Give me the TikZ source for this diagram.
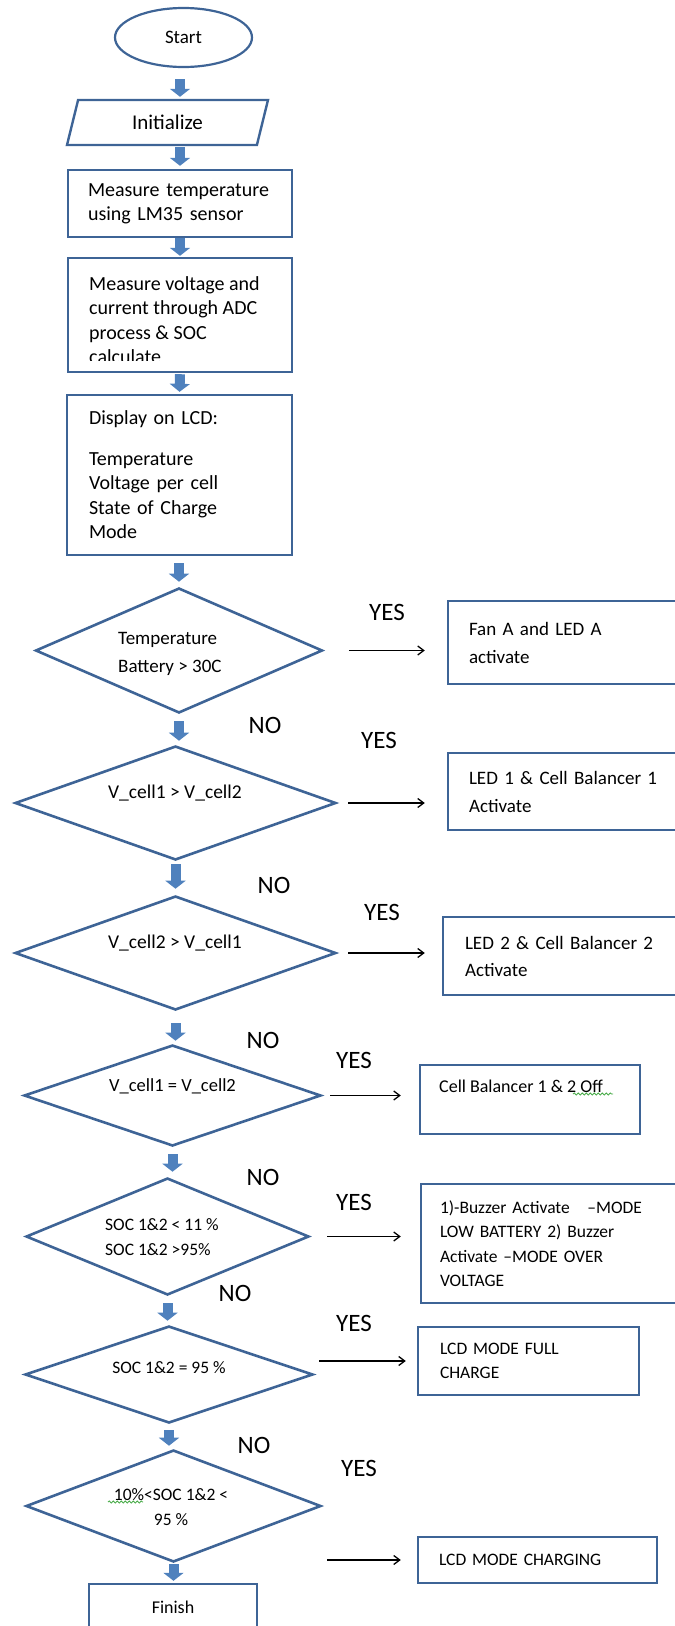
\documentclass[tikz,border=0pt]{standalone}
\usepackage{fontspec}
\setmainfont{Carlito}
\usetikzlibrary{shapes.geometric,arrows.meta,calc,decorations.pathmorphing}
\definecolor{bord}{RGB}{62,100,150}
\definecolor{blkc}{RGB}{79,129,189}
\definecolor{squig}{RGB}{70,170,70}
\newcommand{\myfs}[2]{\fontsize{#1}{#2}\selectfont}
\begin{document}
\begin{tikzpicture}[x=1pt,y=-1pt,
  term/.style={ellipse, draw=bord, line width=2.2pt, inner sep=0pt},
  io/.style={trapezium, trapezium left angle=53, trapezium right angle=127,
    trapezium stretches body, draw=bord, line width=2.4pt, inner sep=0pt},
  proc/.style={rectangle, draw=bord, line width=2.4pt, inner ysep=0pt, align=left},
  dia/.style={diamond, draw=bord, line width=2.6pt, inner sep=0pt},
  dtext/.style={inner sep=0pt},
  blk/.style={draw=blkc, line width=10pt, -{Triangle[width=20pt,length=8pt]}},
  ya/.style={draw=black, line width=1.3pt, -{Straight Barb[length=6pt,width=9pt]}},
  lab/.style={inner sep=0pt, font=\myfs{25}{28}},
  sq/.style={draw=squig, line width=0.8pt, decorate,
    decoration={snake, amplitude=1.1pt, segment length=4pt}}
]
\useasboundingbox (0,0) rectangle (675,1626);
\clip (0,0) rectangle (675,1626);

% main column
\node[term, minimum width=137pt, minimum height=59pt, font=\myfs{19}{23}] (start) at (183.5,37.5) {Start};
\node[io, minimum width=201pt, minimum height=45pt, font=\myfs{21}{24}] (init) at (167.5,122.5) {Initialize};
\node[proc, minimum width=224pt, minimum height=67pt, inner xsep=20pt, text width=184pt,
  font=\myfs{20}{24}] (m1) at (180,203.5) {Measure temperature\\using LM35 sensor};
\node[proc, minimum width=224pt, minimum height=114pt] (m2) at (180,315) {};
\begin{scope}
  \clip (m2.north west) rectangle ($(m2.south east)+(0,-13)$);
  \node[dtext, anchor=north west, align=left, font=\myfs{20}{24.5}] (m2t) at (89,276)
    {Measure voltage and\\current through ADC\\process \& SOC\\calculate};
\end{scope}
\node[proc, minimum width=225pt, minimum height=160pt, inner xsep=22pt, text width=181pt,
  font=\myfs{20}{24.5}] (disp) at (179.5,475)
  {Display on LCD:\\[16pt]Temperature\\Voltage per cell\\State of Charge\\Mode};

% decisions
\node[dia, minimum width=287pt, minimum height=125pt] (d1) at (179,650.5) {};
\node[dtext, anchor=west, align=left, font=\myfs{19}{28}] (d1t) at (118,654) {Temperature\\Battery > 30C};
\node[dia, minimum width=321pt, minimum height=114pt] (d2) at (175.5,803) {};
\node[dtext, font=\myfs{19.5}{24}] (d2t) at (175,793) {V\_cell1 > V\_cell2};
\node[dia, minimum width=321pt, minimum height=114pt] (d3) at (175.5,953) {};
\node[dtext, font=\myfs{19.5}{24}] (d3t) at (175,943) {V\_cell2 > V\_cell1};
\node[dia, minimum width=297pt, minimum height=101pt] (d4) at (172.5,1095.5) {};
\node[dtext, font=\myfs{18.5}{24}] (d4t) at (172.5,1086) {V\_cell1 = V\_cell2};
\node[dia, minimum width=283pt, minimum height=117pt] (d5) at (167.5,1236.5) {};
\node[dtext, anchor=west, align=left, font=\myfs{17.5}{25}] (d5t) at (105,1237.5) {SOC 1\&2 < 11 \%\\SOC 1\&2 >95\%};
\node[dia, minimum width=288pt, minimum height=97pt] (d6) at (169,1374.5) {};
\node[dtext, font=\myfs{17.5}{24}] (d6t) at (169,1368) {SOC 1\&2 = 95 \%};
\node[dia, minimum width=295pt, minimum height=112pt] (d7) at (173.5,1506) {};
\node[dtext, align=center, font=\myfs{17.5}{25}] (d7t) at (171,1507.5) {10\%<SOC 1\&2 <\\95 \%};
\node[proc, minimum width=168pt, minimum height=46pt, align=center, font=\myfs{18}{22}] (fin) at (173,1607) {Finish};

% action boxes
\node[proc, minimum width=252pt, minimum height=83pt, inner xsep=21pt, text width=210pt,
  font=\myfs{19}{28}] (b1) at (574,642.5) {Fan A and LED A\\activate};
\node[proc, minimum width=252pt, minimum height=77pt, inner xsep=21pt, text width=210pt,
  font=\myfs{19}{28}] (b2) at (574,791.5) {LED 1 \& Cell Balancer 1\\Activate};
\node[proc, minimum width=257pt, minimum height=78pt, inner xsep=22pt, text width=213pt,
  font=\myfs{19}{27}] (b3) at (571.5,956) {LED 2 \& Cell Balancer 2\\Activate};
\node[proc, minimum width=220pt, minimum height=69pt] (b4) at (530,1099.5) {};
\node[dtext, anchor=west, font=\myfs{18}{24}] (b4t) at (439,1086) {Cell Balancer 1 \& 2 Off};
\node[proc, minimum width=279pt, minimum height=119pt, inner xsep=19pt, text width=241pt,
  font=\myfs{17.5}{24.5}] (b5) at (560.5,1243.5)
  {1)-Buzzer Activate \ \ –MODE\\LOW BATTERY 2) Buzzer\\Activate –MODE OVER\\VOLTAGE};
\node[proc, minimum width=221pt, minimum height=68pt, inner xsep=22pt, text width=177pt,
  font=\myfs{17.5}{24}] (b6) at (528.5,1361) {LCD MODE FULL\\CHARGE};
\node[proc, minimum width=239pt, minimum height=46pt, inner xsep=21pt, text width=197pt,
  font=\myfs{17.5}{22}] (b7) at (537.5,1560) {LCD MODE CHARGING};

% spell-check squiggles
\draw[sq] (573,1094) -- (613,1094);
\draw[sq] (108,1502) -- (143,1502);

% block arrows
\draw[blk, shorten <=11pt, shorten >=2pt] (start.south -| m1.north) -- (init.north -| m1.north);
\draw[blk, shorten <=1pt, shorten >=3pt] (init.south -| m1.north) -- (m1.north);
\draw[blk, shorten <=0pt, shorten >=1pt] (m1.south) -- (m2.north);
\draw[blk, shorten <=1pt, shorten >=2pt] (m2.south) -- (disp.north);
\draw[blk, shorten <=7pt, shorten >=5pt] (disp.south -| d1.north) -- (d1.north);
\draw[blk, shorten <=7pt, shorten >=4pt] (d1.south) -- (d1.south |- d2.north);
\draw[blk, shorten <=3pt, shorten >=6pt] (d2.south) -- (d2.south |- d3.north);
\draw[blk, shorten <=12pt, shorten >=3pt] (d3.south) -- (d3.south |- d4.north);
\draw[blk, shorten <=7pt, shorten >=5pt] (d4.south) -- (d4.south |- d5.north);
\draw[blk, shorten <=7pt, shorten >=4pt] (d5.south) -- (d5.south |- d6.north);
\draw[blk, shorten <=6pt, shorten >=3pt] (d6.south) -- (d6.south |- d7.north);
\draw[blk, shorten <=1pt, shorten >=2pt] (d7.south) -- (d7.south |- fin.north);

% yes arrows
\draw[ya, shorten <=25pt, shorten >=22pt] (d1.east) -- (d1.east -| b1.west);
\draw[ya, shorten <=11pt, shorten >=22pt] (d2.east) -- (d2.east -| b2.west);
\draw[ya, shorten <=11pt, shorten >=17pt] (d3.east) -- (d3.east -| b3.west);
\draw[ya, shorten <=8pt, shorten >=18pt] (d4.east) -- (d4.east -| b4.west);
\draw[ya, shorten <=17pt, shorten >=19pt] (d5.east) -- (d5.east -| b5.west);
\draw[ya, shorten <=5pt, shorten >=11pt] (d6.east |- b6.west) -- (b6.west);
\draw[ya, shorten <=5pt, shorten >=16pt] (d7.east |- b7.west) -- (b7.west);

% labels
\node[lab] (y1) at (387,612) {YES};
\node[lab] (n1) at (265,725) {NO};
\node[lab] (y2) at (379,740) {YES};
\node[lab] (n2) at (274,885) {NO};
\node[lab] (y3) at (382,912) {YES};
\node[lab] (n3) at (263,1040) {NO};
\node[lab] (y4) at (354,1060) {YES};
\node[lab] (n4) at (263,1177) {NO};
\node[lab] (y5) at (354,1202) {YES};
\node[lab] (n5) at (235,1293) {NO};
\node[lab] (y6) at (354,1323) {YES};
\node[lab] (n6) at (254,1445) {NO};
\node[lab] (y7) at (359,1468) {YES};
\end{tikzpicture}
\end{document}
